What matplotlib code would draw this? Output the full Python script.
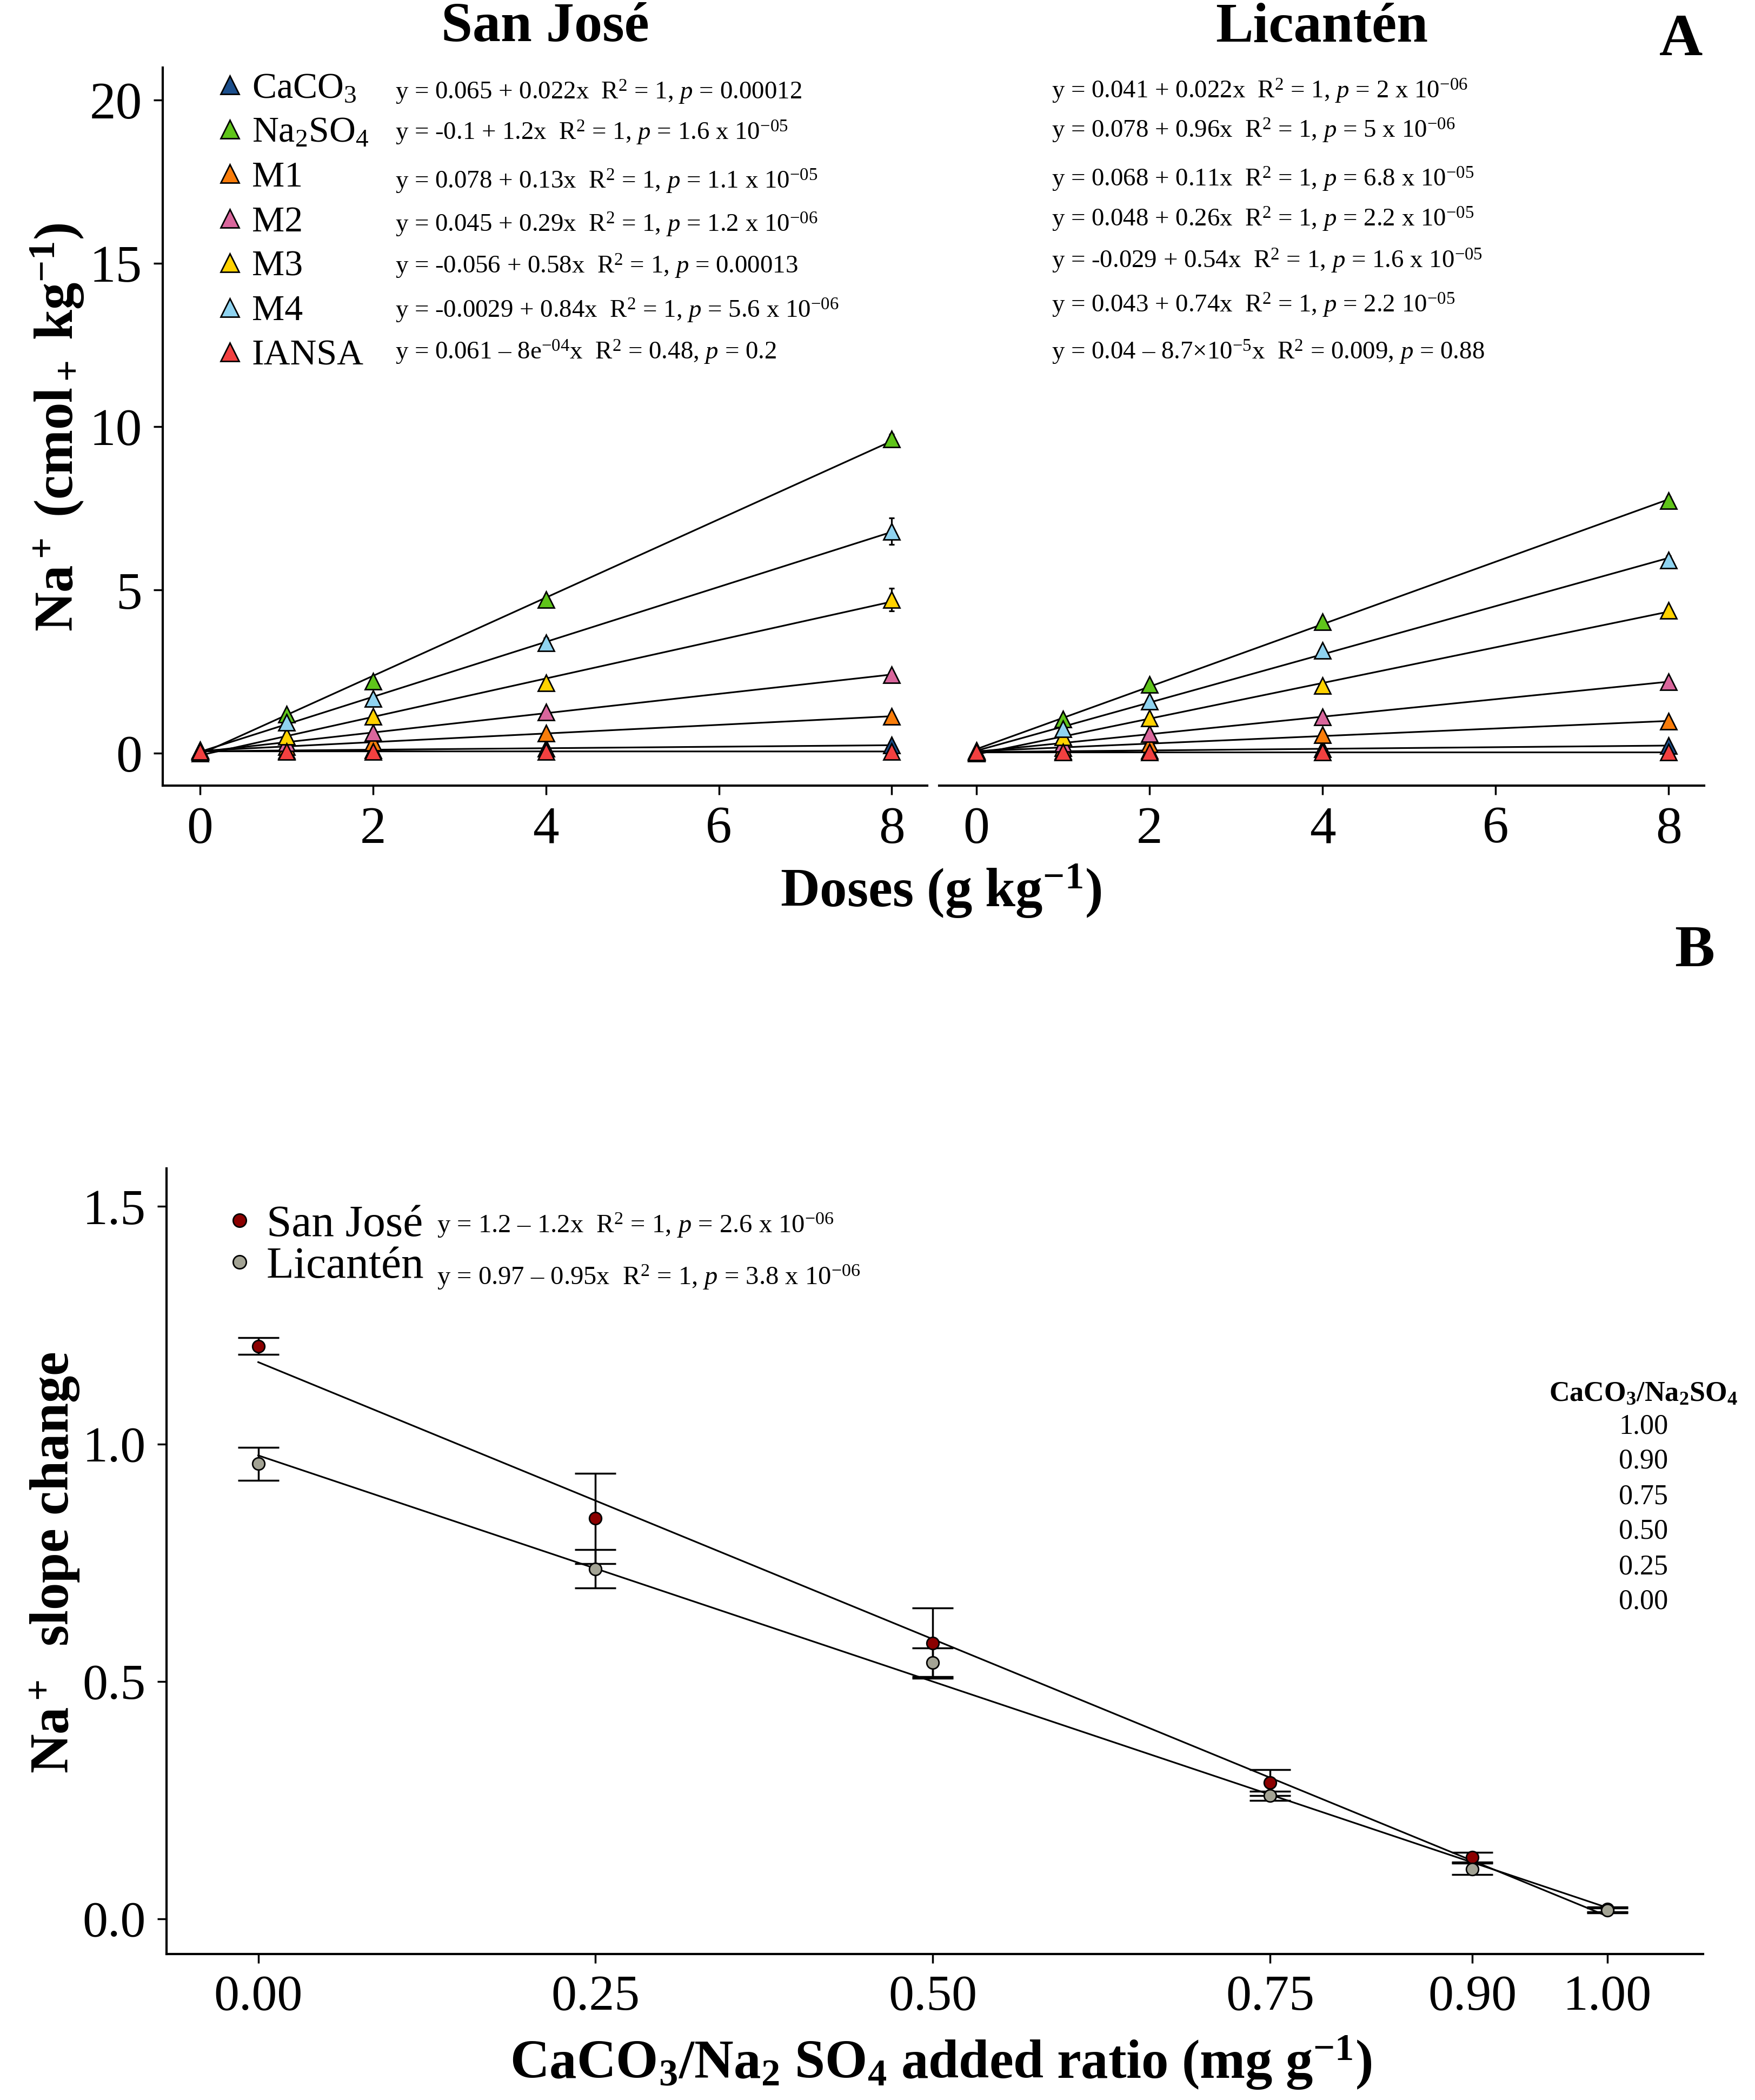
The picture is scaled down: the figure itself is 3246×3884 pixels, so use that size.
import numpy as np
import matplotlib
matplotlib.use("Agg")
import matplotlib.pyplot as plt
from matplotlib.lines import Line2D

plt.rcParams['font.family'] = ['Liberation Serif', 'DejaVu Serif']
plt.rcParams['mathtext.fontset'] = 'custom'
plt.rcParams['mathtext.rm'] = 'Liberation Serif'
plt.rcParams['mathtext.it'] = 'Liberation Serif:italic'
plt.rcParams['mathtext.bf'] = 'Liberation Serif:bold'

# ---- panel A data ----
doses = [0, 1, 2, 4, 8]
treatments = ["CaCO$_3$", "Na$_2$SO$_4$", "M1", "M2", "M3", "M4", "IANSA"]
colors = ["#1c4f8c", "#5fc41a", "#f97d0b", "#d9669c", "#ffd200", "#8fd3f0", "#f24040"]

sj_na = [
    [0.065, 0.085, 0.11, 0.15, 0.25],
    [0.10, 1.20, 2.20, 4.71, 9.63],
    [0.08, 0.20, 0.34, 0.62, 1.13],
    [0.05, 0.32, 0.63, 1.26, 2.40],
    [0.00, 0.52, 1.13, 2.15, 4.71],
    [0.05, 0.94, 1.68, 3.38, 6.80],
    [0.06, 0.06, 0.06, 0.058, 0.055],
]
sj_err = [
    [0.01, 0.01, 0.01, 0.02, 0.03],
    [0.02, 0.05, 0.06, 0.08, 0.15],
    [0.01, 0.02, 0.02, 0.03, 0.05],
    [0.01, 0.02, 0.03, 0.05, 0.08],
    [0.01, 0.04, 0.06, 0.10, 0.35],
    [0.01, 0.05, 0.08, 0.15, 0.40],
    [0.01, 0.01, 0.01, 0.01, 0.01],
]
lic_na = [
    [0.04, 0.065, 0.085, 0.13, 0.24],
    [0.08, 1.04, 2.10, 4.03, 7.73],
    [0.07, 0.17, 0.28, 0.56, 0.98],
    [0.05, 0.30, 0.60, 1.12, 2.19],
    [0.00, 0.50, 1.08, 2.08, 4.37],
    [0.04, 0.75, 1.60, 3.15, 5.92],
    [0.04, 0.04, 0.04, 0.04, 0.04],
]
lic_err = [
    [0.01, 0.01, 0.01, 0.01, 0.02],
    [0.02, 0.04, 0.05, 0.08, 0.12],
    [0.01, 0.02, 0.02, 0.03, 0.05],
    [0.01, 0.02, 0.03, 0.05, 0.06],
    [0.01, 0.03, 0.05, 0.08, 0.10],
    [0.01, 0.04, 0.06, 0.10, 0.12],
    [0.01, 0.01, 0.01, 0.01, 0.01],
]
sj_eq = [
    "y = 0.065 + 0.022x  R$^2$ = 1, $p$ = 0.00012",
    "y = -0.1 + 1.2x  R$^2$ = 1, $p$ = 1.6 x 10$^{-05}$",
    "y = 0.078 + 0.13x  R$^2$ = 1, $p$ = 1.1 x 10$^{-05}$",
    "y = 0.045 + 0.29x  R$^2$ = 1, $p$ = 1.2 x 10$^{-06}$",
    "y = -0.056 + 0.58x  R$^2$ = 1, $p$ = 0.00013",
    "y = -0.0029 + 0.84x  R$^2$ = 1, $p$ = 5.6 x 10$^{-06}$",
    "y = 0.061 \u2013 8e$^{-04}$x  R$^2$ = 0.48, $p$ = 0.2",
]
lic_eq = [
    "y = 0.041 + 0.022x  R$^2$ = 1, $p$ = 2 x 10$^{-06}$",
    "y = 0.078 + 0.96x  R$^2$ = 1, $p$ = 5 x 10$^{-06}$",
    "y = 0.068 + 0.11x  R$^2$ = 1, $p$ = 6.8 x 10$^{-05}$",
    "y = 0.048 + 0.26x  R$^2$ = 1, $p$ = 2.2 x 10$^{-05}$",
    "y = -0.029 + 0.54x  R$^2$ = 1, $p$ = 1.6 x 10$^{-05}$",
    "y = 0.043 + 0.74x  R$^2$ = 1, $p$ = 2.2 10$^{-05}$",
    "y = 0.04 \u2013 8.7\u00d710$^{-5}$x  R$^2$ = 0.009, $p$ = 0.88",
]

# ---- panel B data ----
ratio = [0.0, 0.25, 0.5, 0.75, 0.9, 1.0]
ratio_labels = ["0.00", "0.25", "0.50", "0.75", "0.90", "1.00"]
sites = ["San José", "Licantén"]
site_colors = ["#8b0000", "#a3a394"]
sj_slope = [1.206, 0.843, 0.581, 0.287, 0.130, 0.020]
sj_slope_err = [0.018, 0.095, 0.074, 0.027, 0.010, 0.005]
lic_slope = [0.958, 0.737, 0.540, 0.259, 0.105, 0.018]
lic_slope_err = [0.035, 0.040, 0.030, 0.010, 0.012, 0.005]
site_eq = [
    "y = 1.2 \u2013 1.2x  R$^2$ = 1, $p$ = 2.6 x 10$^{-06}$",
    "y = 0.97 \u2013 0.95x  R$^2$ = 1, $p$ = 3.8 x 10$^{-06}$",
]

W, H = 3246, 3884
fig = plt.figure(figsize=(W / 250, H / 250), dpi=250)


def fx(px):
    return px / W


def fy(py):
    return 1 - py / H


def style_axis(ax, left=True, size=28):
    for s in ["top", "right"]:
        ax.spines[s].set_visible(False)
    ax.spines["bottom"].set_linewidth(1.2)
    ax.spines["left"].set_linewidth(1.2)
    ax.tick_params(length=5, width=1.0, labelsize=size, pad=6)
    if not left:
        ax.spines["left"].set_visible(False)
        ax.tick_params(axis="y", left=False, labelleft=False)


# top panels
ax1 = fig.add_axes([fx(301), fy(1453), fx(1715 - 301), (1453 - 125) / H])
ax2 = fig.add_axes([fx(1737), fy(1453), fx(3152 - 1737), (1453 - 125) / H])

xfit = np.linspace(0, 8, 50)
for ax, vals, errs, title in [(ax1, sj_na, sj_err, "San José"), (ax2, lic_na, lic_err, "Licantén")]:
    for v, e, c in zip(vals, errs, colors):
        b, a = np.polyfit(doses, v, 1)
        ax.plot(xfit, a + b * xfit, color="black", lw=0.9, zorder=2)
        ax.errorbar(doses, v, yerr=e, fmt="none", ecolor="black", elinewidth=0.9,
                    capsize=1.5, capthick=0.9, zorder=3)
        ax.plot(doses, v, ls="none", marker="^", ms=8.5, mfc=c, mec="black",
                mew=0.8, zorder=4)
    ax.set_xlim(-0.43, 8.41)
    ax.set_ylim(-0.99, 21.0)
    ax.set_xticks([0, 2, 4, 6, 8])
    ax.set_yticks([0, 5, 10, 15, 20])
    ax.set_title(title, fontsize=30, fontweight="bold", pad=14)
style_axis(ax1)
style_axis(ax2, left=False)

# legend panel A
handles = [Line2D([], [], ls="none", marker="^", ms=10, mfc=c, mec="black", mew=0.8)
           for c in colors]
ax1.legend(handles, treatments, loc="upper left", bbox_to_anchor=(fx(398), fy(133)),
           bbox_transform=fig.transFigure, frameon=False, fontsize=19.5,
           handlelength=0.8, handletextpad=0.2, labelspacing=0.31,
           borderpad=0, borderaxespad=0)

sj_rows = [171, 246, 336, 416, 493, 575, 652]
lic_rows = [169, 242, 332, 406, 483, 565, 652]
for eq, r in zip(sj_eq, sj_rows):
    fig.text(fx(731), fy(r), eq, fontsize=13.5, va="center", ha="left")
for eq, r in zip(lic_eq, lic_rows):
    fig.text(fx(1945), fy(r), eq, fontsize=13.5, va="center", ha="left")

fig.text(fx(106), fy(790), r"$\mathbf{Na^+\ (cmol_+\ kg^{-1})}$", fontsize=29,
         rotation=90, ha="center", va="center")
fig.text(fx(1740), fy(1648), r"$\mathbf{Doses\ (g\ kg^{-1})}$", fontsize=29,
         ha="center", va="center")
fig.text(fx(3109), fy(75), "A", fontsize=32, fontweight="bold", ha="center", va="center")
fig.text(fx(3134), fy(1760), "B", fontsize=32, fontweight="bold", ha="center", va="center")

# bottom panel
ax3 = fig.add_axes([fx(308), fy(3614), fx(3150 - 308), (3614 - 2161) / H])
rfit = np.linspace(0, 1, 50)
for v, e, c in zip([sj_slope, lic_slope], [sj_slope_err, lic_slope_err], site_colors):
    b, a = np.polyfit(ratio, v, 1)
    ax3.plot(rfit, a + b * rfit, color="black", lw=0.9, zorder=2)
    ax3.errorbar(ratio, v, yerr=e, fmt="none", ecolor="black", elinewidth=1.0,
                 capsize=11, capthick=1.0, zorder=3)
    ax3.plot(ratio, v, ls="none", marker="o", ms=6.5, mfc=c, mec="black",
             mew=0.8, zorder=4)
ax3.set_xlim(-0.068, 1.071)
ax3.set_ylim(-0.074, 1.58)
ax3.set_xticks(ratio)
ax3.set_xticklabels(ratio_labels)
ax3.set_yticks([0, 0.5, 1.0, 1.5])
ax3.set_yticklabels(["0.0", "0.5", "1.0", "1.5"])
style_axis(ax3, size=27)

h2 = [Line2D([], [], ls="none", marker="o", ms=7, mfc=c, mec="black", mew=0.8)
      for c in site_colors]
ax3.legend(h2, sites, loc="upper left", bbox_to_anchor=(fx(418), fy(2228)),
           bbox_transform=fig.transFigure, frameon=False, fontsize=24,
           handlelength=0.6, handletextpad=0.3, labelspacing=0.0,
           borderpad=0, borderaxespad=0)
for eq, r in zip(site_eq, [2266, 2362]):
    fig.text(fx(808), fy(r), eq, fontsize=14, va="center", ha="left")

fig.text(fx(3040), fy(2578), r"$\mathbf{CaCO_3/Na_2SO_4}$", fontsize=15,
         ha="center", va="center")
for i, lab in enumerate(ratio_labels[::-1]):
    fig.text(fx(3040), fy(2638 + 65 * i), lab, fontsize=15, ha="center", va="center")

fig.text(fx(103), fy(2890), r"$\mathbf{Na^+\ \ slope\ change}$", fontsize=29,
         rotation=90, ha="center", va="center")
fig.text(fx(1740), fy(3815), r"$\mathbf{CaCO_3/Na_2\ SO_4\ added\ ratio\ (mg\ g^{-1})}$",
         fontsize=29, ha="center", va="center")

fig.savefig("out.png", dpi=250)
